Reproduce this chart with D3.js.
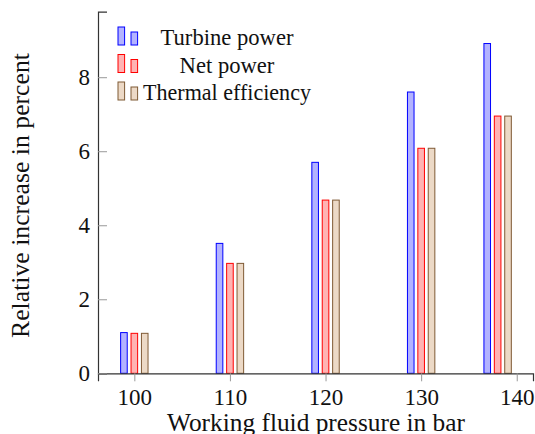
<!DOCTYPE html>
<html>
<head>
<meta charset="utf-8">
<script src="https://cdn.jsdelivr.net/npm/d3@7"></script>
<style>
  html, body { margin: 0; padding: 0; background: #fff; }
</style>
</head>
<body>
<svg id="chart" width="535" height="434"></svg>
<script>
// ---- data ----
const pressures = [100, 110, 120, 130, 138];
const xTickValues = [100, 110, 120, 130, 140];
const yTickValues = [0, 2, 4, 6, 8];
const seriesNames = ["Turbine power", "Net power", "Thermal efficiency"];
const turbinePower = [1.10, 3.51, 5.70, 7.60, 8.91];
const netPower = [1.08, 2.97, 4.68, 6.08, 6.95];
const thermalEfficiency = [1.08, 2.97, 4.68, 6.08, 6.95];

// ---- styles ----
const FONT = "'Liberation Serif', 'DejaVu Serif', serif";
const strokes = ["#0000ff", "#ff0000", "#7f5a35"];
const fills = ["#b3b3ff", "#ffb3b3", "#ecd9c6"];
const offsets = [-10.4, 0, 10.4];
const barW = 6.6;

const seriesValues = [turbinePower, netPower, thermalEfficiency];

const svg = d3.select("#chart");
const x = d3.scaleLinear().domain([96.2, 141.7]).range([98, 533]);
const y = d3.scaleLinear().domain([0, 9.77]).range([373.3, 11.7]);

function styleText(sel, size) {
  return sel.style("font-family", FONT).style("font-size", size + "px").style("fill", "#111");
}
// fit text to a target width by adjusting font-size
function fit(sel, target) {
  const len = sel.node().getComputedTextLength();
  const fs = parseFloat(sel.style("font-size"));
  sel.style("font-size", (fs * target / len) + "px");
  return sel;
}

// bars
seriesValues.forEach((vals, s) => {
  svg.append("g").selectAll("rect")
    .data(vals.map((v, i) => ({ p: pressures[i], v })))
    .join("rect")
    .attr("x", d => x(d.p) + offsets[s] - barW / 2)
    .attr("y", d => y(d.v))
    .attr("width", barW)
    .attr("height", d => y(0) - y(d.v))
    .attr("fill", fills[s])
    .attr("stroke", strokes[s])
    .attr("stroke-width", 1);
});

// x axis
const xAxis = d3.axisBottom(x).tickValues(xTickValues).tickSize(8).tickPadding(7).tickFormat(d3.format("d"));
const gx = svg.append("g").attr("transform", `translate(0,${y(0)})`).call(xAxis);
gx.select(".domain").attr("stroke", "#333").attr("stroke-width", 1.2);
gx.selectAll(".tick line").attr("stroke", "#999");
styleText(gx.selectAll(".tick text"), 23).attr("dy", "0.72em");

// y axis
const yAxis = d3.axisLeft(y).tickValues(yTickValues).tickSize(-9).tickPadding(8).tickFormat(d3.format("d"));
const gy = svg.append("g").attr("transform", `translate(${x.range()[0]},0)`).call(yAxis);
gy.select(".domain").attr("stroke", "#333").attr("stroke-width", 1.2);
gy.selectAll(".tick line").attr("stroke", "#999");
styleText(gy.selectAll(".tick text"), 23).attr("x", -8);

// axis titles
fit(styleText(svg.append("text")
  .attr("x", 316).attr("y", 430.5)
  .attr("text-anchor", "middle")
  .text("Working fluid pressure in bar"), 22), 298);
fit(styleText(svg.append("text")
  .attr("transform", "translate(29,195.5) rotate(-90)")
  .attr("text-anchor", "middle")
  .text("Relative increase in percent"), 22), 285);

// legend
const legendBaselines = [45, 72.5, 100];
const legendWidths = [133, 92, 168];
const legend = svg.append("g");
seriesNames.forEach((name, s) => {
  const b = legendBaselines[s];
  legend.append("rect").attr("x", 118).attr("y", b - 18).attr("width", 6.6).attr("height", 18)
    .attr("fill", fills[s]).attr("stroke", strokes[s]);
  legend.append("rect").attr("x", 131).attr("y", b - 13).attr("width", 6.6).attr("height", 13)
    .attr("fill", fills[s]).attr("stroke", strokes[s]);
  const t = styleText(legend.append("text").attr("x", 227).attr("y", b).attr("text-anchor", "middle")
    .text(name), 22);
  if (s !== 1) fit(t, legendWidths[s]);
});
// net power uses same size as turbine power
legend.selectAll("text").filter((d, i) => i === 1)
  .style("font-size", legend.selectAll("text").filter((d, i) => i === 0).style("font-size"));
</script>
</body>
</html>
